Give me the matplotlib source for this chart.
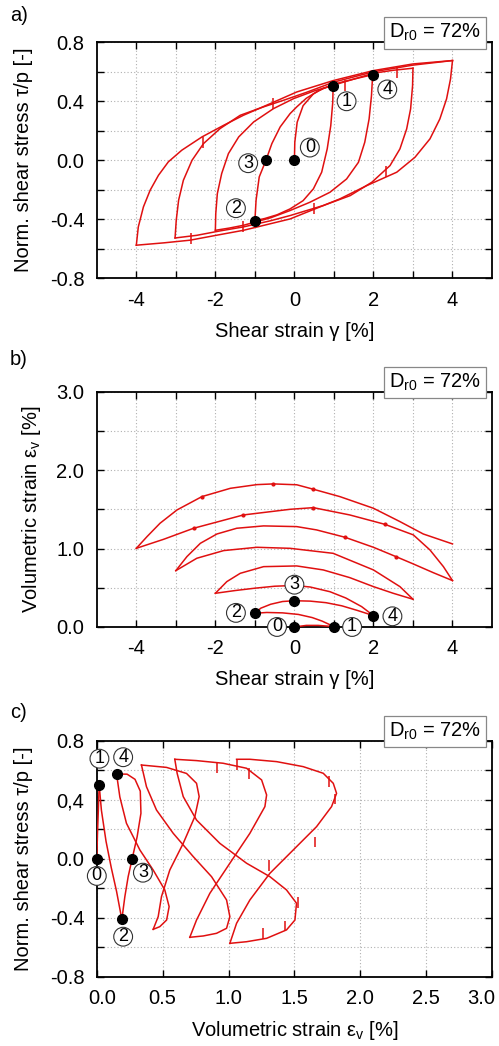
import matplotlib
matplotlib.use("Agg")
import matplotlib.pyplot as plt
from matplotlib.transforms import ScaledTranslation

plt.rcParams['font.family'] = ['Liberation Sans', 'DejaVu Sans']
plt.rcParams['mathtext.default'] = 'regular'
plt.rcParams['axes.unicode_minus'] = False

RED = '#e01010'

# ---- panel a: shear strain gamma [%] vs tau/p, one list per loading branch
A_GAMMA = [
    [0.0, 0.01, 0.07, 0.22, 0.48, 0.73, 0.98],
    [0.98, 0.97, 0.92, 0.83, 0.69, 0.48, 0.22, -0.11, -0.44, -0.75, -1.0],
    [-1.0, -0.97, -0.89, -0.72, -0.57, -0.36, -0.11, 0.06, 0.3, 0.6, 0.98, 1.5, 1.98],
    [1.98, 1.95, 1.89, 1.78, 1.62, 1.32, 0.90, 0.39, -0.11, -0.6, -1.29, -1.65, -2.0],
    [-2.0, -1.99, -1.95, -1.84, -1.67, -1.41, -1.03, -0.53, -0.02, 0.5, 1.0, 1.5, 2.0, 2.5, 3.0],
    [3.0, 2.99, 2.94, 2.84, 2.67, 2.42, 1.96, 1.41, 0.73, -0.11, -0.6, -1.29, -1.9, -2.47, -3.02],
    [-3.02, -2.99, -2.93, -2.81, -2.59, -2.30, -1.88, -1.37, -0.78, -0.27, 0.3, 1.0, 2.0, 3.0, 4.0],
    [4.0, 3.95, 3.85, 3.68, 3.43, 3.05, 2.59, 1.83, 1.15, 0.52, -0.11, -1.29, -2.0, -2.64, -3.3, -4.0],
    [-4.0, -3.95, -3.82, -3.65, -3.44, -3.19, -2.85, -2.34, -1.79, -1.29, -0.61, 0.06, 0.98, 2.0, 3.0, 4.0],
]
A_TAU = [
    [0.0, 0.122, 0.258, 0.37, 0.45, 0.488, 0.506],
    [0.506, 0.393, 0.235, 0.077, -0.081, -0.194, -0.274, -0.33, -0.37, -0.395, -0.41],
    [-0.41, -0.271, -0.113, 0.0, 0.113, 0.226, 0.316, 0.362, 0.42, 0.47, 0.515, 0.55, 0.58],
    [0.58, 0.438, 0.28, 0.122, -0.014, -0.127, -0.217, -0.285, -0.341, -0.39, -0.441, -0.46, -0.475],
    [-0.475, -0.362, -0.226, -0.09, 0.045, 0.158, 0.26, 0.35, 0.418, 0.47, 0.51, 0.55, 0.59, 0.61, 0.624],
    [0.624, 0.506, 0.348, 0.212, 0.077, -0.036, -0.149, -0.24, -0.307, -0.375, -0.41, -0.452, -0.48, -0.509, -0.527],
    [-0.527, -0.407, -0.271, -0.136, 0.0, 0.113, 0.215, 0.305, 0.362, 0.407, 0.46, 0.53, 0.60, 0.645, 0.676],
    [0.676, 0.551, 0.416, 0.28, 0.145, 0.02, -0.081, -0.172, -0.262, -0.33, -0.398, -0.475, -0.51, -0.542, -0.56, -0.576],
    [-0.576, -0.452, -0.316, -0.203, -0.102, -0.011, 0.068, 0.158, 0.237, 0.305, 0.384, 0.463, 0.54, 0.608, 0.653, 0.676],
]
A_TICK_X = [-2.32, -0.53, 1.28, 2.59, 2.32, 0.49, -1.29, -2.61]
A_TICK_Y = [0.16, 0.42, 0.545, 0.63, -0.04, -0.29, -0.41, -0.49]
A_DOT_X = [0.0, 0.98, -1.0, -0.72, 1.98]
A_DOT_Y = [0.0, 0.506, -0.41, 0.0, 0.58]
A_LAB_X = [0.39, 1.32, -1.48, -1.17, 2.35]
A_LAB_Y = [0.086, 0.40, -0.325, -0.02, 0.48]

# ---- panel b: shear strain gamma [%] vs volumetric strain [%]
B_GAMMA = [
    [0.0, 0.3, 0.6, 1.0],
    [1.0, 0.85, 0.7, 0.45, 0.1, -0.3, -0.7, -1.0],
    [-1.0, -0.85, -0.6, -0.3, 0.0, 0.4, 0.8, 1.2, 1.6, 2.0],
    [2.0, 1.7, 1.3, 0.9, 0.4, 0.0, -0.5, -1.0, -1.5, -2.0],
    [-2.0, -1.71, -1.37, -0.78, 0.06, 0.73, 1.4, 2.0, 2.5, 3.0],
    [3.0, 2.67, 2.0, 0.98, -0.11, -0.95, -1.79, -2.47, -3.0],
    [-3.0, -2.72, -2.38, -1.96, -1.46, -0.78, 0.06, 0.56, 1.28, 2.0, 2.57, 3.01, 3.51, 4.0],
    [4.0, 3.77, 3.43, 3.01, 2.29, 1.40, 0.48, -0.11, -1.29, -2.55, -3.31, -4.0],
    [-4.0, -3.73, -3.40, -2.97, -2.34, -1.62, -0.95, -0.53, 0.06, 0.48, 1.15, 2.0, 2.67, 3.26, 4.0],
]
B_EV = [
    [0.0, 0.02, 0.02, 0.005],
    [0.005, 0.04, 0.075, 0.12, 0.16, 0.18, 0.185, 0.175],
    [0.175, 0.24, 0.29, 0.325, 0.335, 0.33, 0.31, 0.27, 0.21, 0.145],
    [0.145, 0.26, 0.37, 0.45, 0.51, 0.53, 0.52, 0.495, 0.465, 0.43],
    [0.43, 0.579, 0.685, 0.77, 0.779, 0.728, 0.63, 0.515, 0.43, 0.354],
    [0.354, 0.515, 0.728, 0.94, 1.004, 1.017, 0.975, 0.877, 0.719],
    [0.719, 0.898, 1.068, 1.187, 1.26, 1.29, 1.281, 1.239, 1.145, 1.017, 0.898, 0.804, 0.694, 0.592],
    [0.592, 0.77, 0.983, 1.175, 1.31, 1.43, 1.523, 1.502, 1.43, 1.26, 1.119, 1.004],
    [1.004, 1.153, 1.324, 1.494, 1.664, 1.77, 1.817, 1.826, 1.815, 1.758, 1.664, 1.515, 1.345, 1.187, 1.06],
]
B_MARK_X = [-2.34, -0.53, 0.48, -2.55, -1.29, 0.48, 2.29, 1.28, 2.57]
B_MARK_Y = [1.664, 1.826, 1.758, 1.26, 1.43, 1.523, 1.31, 1.145, 0.898]
B_DOT_X = [0.0, 1.0, -1.0, 0.0, 2.0]
B_DOT_Y = [0.0, 0.005, 0.175, 0.335, 0.145]
B_LAB_X = [-0.44, 1.46, -1.48, 0.0, 2.48]
B_LAB_Y = [0.0, 0.0, 0.18, 0.54, 0.136]

# ---- panel c: volumetric strain [%] vs tau/p
C_EV = [
    [0.0, 0.005, 0.012, 0.018],
    [0.018, 0.035, 0.07, 0.11, 0.15, 0.19],
    [0.19, 0.213, 0.238, 0.268, 0.306, 0.335, 0.33, 0.29, 0.23, 0.15],
    [0.15, 0.175, 0.225, 0.327, 0.428, 0.516, 0.549, 0.53, 0.478, 0.428],
    [0.428, 0.466, 0.491, 0.554, 0.656, 0.744, 0.777, 0.757, 0.681, 0.529, 0.339],
    [0.339, 0.377, 0.453, 0.58, 0.732, 0.871, 0.985, 1.01, 0.985, 0.909, 0.808, 0.706],
    [0.706, 0.757, 0.858, 1.01, 1.162, 1.276, 1.289, 1.251, 1.137, 0.959, 0.757, 0.592],
    [0.592, 0.61, 0.656, 0.757, 0.934, 1.137, 1.314, 1.44, 1.516, 1.504, 1.44, 1.289, 1.137, 1.01],
    [1.01, 1.061, 1.162, 1.314, 1.491, 1.668, 1.782, 1.82, 1.795, 1.719, 1.567, 1.365, 1.162, 1.061],
]
C_TAU = [
    [0.0, 0.17, 0.34, 0.5],
    [0.5, 0.33, 0.12, -0.06, -0.22, -0.41],
    [-0.41, -0.255, -0.12, 0.0, 0.15, 0.31, 0.46, 0.54, 0.575, 0.576],
    [0.576, 0.42, 0.242, 0.061, -0.075, -0.21, -0.323, -0.414, -0.459, -0.477],
    [-0.477, -0.391, -0.255, -0.075, 0.106, 0.287, 0.423, 0.513, 0.58, 0.621, 0.637],
    [0.637, 0.49, 0.332, 0.174, 0.016, -0.12, -0.278, -0.391, -0.47, -0.504, -0.522, -0.531],
    [-0.531, -0.414, -0.233, -0.029, 0.174, 0.355, 0.434, 0.536, 0.615, 0.649, 0.667, 0.676],
    [0.676, 0.58, 0.423, 0.264, 0.106, -0.029, -0.12, -0.21, -0.30, -0.414, -0.481, -0.538, -0.561, -0.572],
    [-0.572, -0.436, -0.278, -0.097, 0.061, 0.219, 0.355, 0.445, 0.513, 0.581, 0.626, 0.66, 0.676, 0.676],
]
C_TICK_X = [0.913, 1.153, 1.76, 1.81, 1.66, 1.31, 1.53, 1.43, 1.26, 1.061]
C_TICK_Y = [0.655, 0.615, 0.56, 0.44, 0.15, -0.01, -0.26, -0.42, -0.47, 0.676]
C_DOT_X = [0.0, 0.018, 0.19, 0.268, 0.15]
C_DOT_Y = [0.0, 0.5, -0.41, 0.0, 0.576]
C_LAB_X = [0.0, 0.02, 0.2, 0.35, 0.2]
C_LAB_Y = [-0.115, 0.68, -0.527, -0.093, 0.69]

STATES = ['0', '1', '2', '3', '4']
FS = 14.5


def style_axes(ax, xticks, xlabels, yticks, ylabels):
    ax.set_xticks(xticks, xlabels)
    ax.set_yticks(yticks, ylabels)
    ax.tick_params(direction='in', length=5, width=1, top=True, right=True,
                   labelsize=FS, pad=9, colors='black')
    ax.grid(True, color='#b0b0b0', linestyle=(0, (1, 2)), linewidth=0.8)
    for s in ax.spines.values():
        s.set_linewidth(1.3)
    ax.text(0.972, 1.04, 'D$_{r0}$ = 72%', transform=ax.transAxes, ha='right',
            va='center', fontsize=FS, zorder=10,
            bbox=dict(boxstyle='square,pad=0.25', fc='white', ec='#888888', lw=0.9))


def draw(ax, xs, ys, dx, dy, lx, ly):
    for x, y in zip(xs, ys):
        ax.plot(x, y, color=RED, lw=1.1, zorder=3, solid_joinstyle='round')
    ax.plot(dx, dy, 'o', color='black', ms=7, zorder=5, clip_on=False)
    for t, x, y in zip(STATES, lx, ly):
        ax.text(x, y, t, ha='center', va='center', fontsize=13, zorder=6,
                bbox=dict(boxstyle='circle,pad=0.05', fc='white', ec='#333333', lw=0.8))


fig = plt.figure(figsize=(4.99, 10.46), dpi=100)

# a)
ax = fig.add_axes([0.194, 0.734, 0.792, 0.2256])
draw(ax, A_GAMMA, A_TAU, A_DOT_X, A_DOT_Y, A_LAB_X, A_LAB_Y)
ax.vlines(A_TICK_X, [y - 0.075 for y in A_TICK_Y], A_TICK_Y, color=RED, lw=1.1, zorder=3)
ax.set_xlim(-5, 5)
ax.set_ylim(-0.8, 0.8)
style_axes(ax, [-4, -3, -2, -1, 0, 1, 2, 3, 4], ['-4', '', '-2', '', '0', '', '2', '', '4'],
           [-0.8, -0.6, -0.4, -0.2, 0.0, 0.2, 0.4, 0.6, 0.8],
           ['-0.8', '', '-0.4', '', '0.0', '', '0.4', '', '0.8'])
ax.set_xlabel('Shear strain γ [%]', fontsize=FS)
ax.set_ylabel('Norm. shear stress τ/p [-]', fontsize=FS)
ax.xaxis.set_label_coords(0.5, -0.185)
ax.yaxis.set_label_coords(-0.162, 0.5)

# b)
ax = fig.add_axes([0.194, 0.4006, 0.792, 0.2247])
draw(ax, B_GAMMA, B_EV, B_DOT_X, B_DOT_Y, B_LAB_X, B_LAB_Y)
ax.plot(B_MARK_X, B_MARK_Y, 'o', color=RED, ms=2, zorder=3)
ax.set_xlim(-5, 5)
ax.set_ylim(0, 3)
style_axes(ax, [-4, -3, -2, -1, 0, 1, 2, 3, 4], ['-4', '', '-2', '', '0', '', '2', '', '4'],
           [0.0, 0.5, 1.0, 1.5, 2.0, 2.5, 3.0], ['0.0', '', '1.0', '', '2.0', '', '3.0'])
ax.set_xlabel('Shear strain γ [%]', fontsize=FS)
ax.set_ylabel('Volumetric strain ε$_v$ [%]', fontsize=FS)
ax.xaxis.set_label_coords(0.5, -0.183)
ax.yaxis.set_label_coords(-0.137, 0.5)

# c)
ax = fig.add_axes([0.194, 0.066, 0.792, 0.2256])
draw(ax, C_EV, C_TAU, C_DOT_X, C_DOT_Y, C_LAB_X, C_LAB_Y)
ax.vlines(C_TICK_X, [y - 0.07 for y in C_TICK_Y], C_TICK_Y, color=RED, lw=1.1, zorder=3)
ax.set_xlim(0, 3)
ax.set_ylim(-0.8, 0.8)
style_axes(ax, [0.0, 0.5, 1.0, 1.5, 2.0, 2.5, 3.0],
           ['0.0', '0.5', '1.0', '1.5', '2.0', '2.5', '3.0'],
           [-0.8, -0.6, -0.4, -0.2, 0.0, 0.2, 0.4, 0.6, 0.8],
           ['-0.8', '', '-0.4', '', '0.0', '', '0,4', '', '0.8'])
ax.set_xlabel('Volumetric strain ε$_v$ [%]', fontsize=FS)
ax.set_ylabel('Norm. shear stress τ/p [-]', fontsize=FS)
ax.xaxis.set_label_coords(0.5, -0.178)
ax.yaxis.set_label_coords(-0.162, 0.5)
xl = ax.get_xticklabels()
xl[0].set_transform(xl[0].get_transform() + ScaledTranslation(0.05, 0, fig.dpi_scale_trans))
xl[-1].set_transform(xl[-1].get_transform() + ScaledTranslation(-0.11, 0, fig.dpi_scale_trans))

fig.text(0.02, 0.98, 'a)', fontsize=FS, va='baseline')
fig.text(0.02, 0.651, 'b)', fontsize=FS, va='baseline')
fig.text(0.02, 0.3136, 'c)', fontsize=FS, va='baseline')

fig.savefig('out.png', dpi=100)
